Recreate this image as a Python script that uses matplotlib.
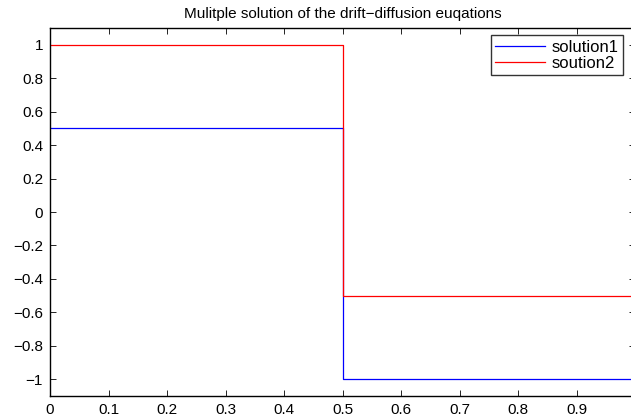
import matplotlib
matplotlib.use("Agg")
import matplotlib.pyplot as plt
from matplotlib.ticker import FuncFormatter

# ── data ──
x_nodes = [0.0, 0.5, 1.0]
solution1 = [0.5, -1.0, -1.0]
soution2 = [1.0, -0.5, -0.5]
series_labels = ["solution1", "soution2"]
title_text = "Mulitple solution of the drift\u2212diffusion euqations"
x_ticks = [0, 0.1, 0.2, 0.3, 0.4, 0.5, 0.6, 0.7, 0.8, 0.9]
y_ticks = [-1, -0.8, -0.6, -0.4, -0.2, 0, 0.2, 0.4, 0.6, 0.8, 1]

plt.rcParams["font.family"] = ["Liberation Sans", "DejaVu Sans"]
FS = 11

W, H = 631, 419
fig = plt.figure(figsize=(W / 100, H / 100), dpi=100)
# axes box in pixels: left 50, right 635 (cropped off the image), top 28, bottom 396
ax = fig.add_axes([50 / W, (H - 396) / H, (635 - 50) / W, (396 - 28) / H])

ax.plot(x_nodes, solution1, color="#0000ff", lw=0.9, drawstyle="steps-post",
        label=series_labels[0])
ax.plot(x_nodes, soution2, color="#ff0000", lw=0.9, drawstyle="steps-post",
        label=series_labels[1])

ax.set_xlim(0, 1)
ax.set_ylim(-1.1, 1.1)
ax.set_xticks(x_ticks)
ax.set_yticks(y_ticks)
fmt = FuncFormatter(lambda v, _: f"{v:g}".replace("-", "\u2212"))
ax.xaxis.set_major_formatter(fmt)
ax.yaxis.set_major_formatter(fmt)
ax.tick_params(direction="in", length=4, width=0.6, top=True, right=True,
               labelsize=FS, pad=5)
for s in ax.spines.values():
    s.set_linewidth(1.0)

ax.set_title(title_text, fontsize=FS, pad=7)

# legend: box roughly x 485..623, y 36..72 px
leg = ax.legend(loc="upper right", bbox_to_anchor=(623 / W, (H - 35.5) / H),
                bbox_transform=fig.transFigure, fontsize=12, frameon=True,
                fancybox=False, borderpad=0.25, handlelength=3.0,
                handletextpad=0.4, labelspacing=0.05, borderaxespad=0)
leg.get_frame().set_edgecolor("black")
leg.get_frame().set_linewidth(1.0)

fig.savefig("out.png", dpi=100)
